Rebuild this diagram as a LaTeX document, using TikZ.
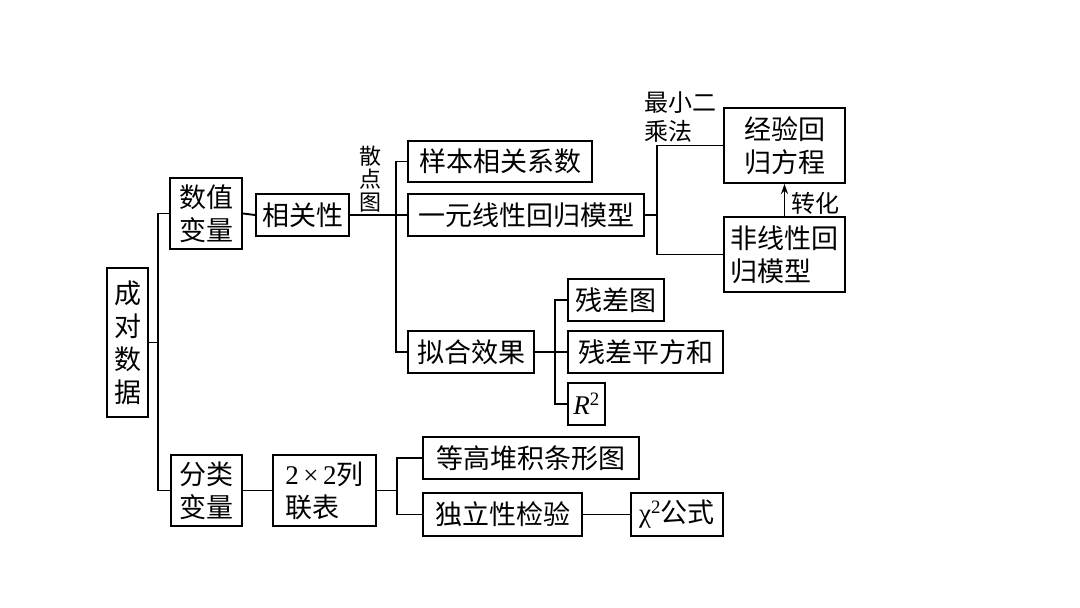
\documentclass[tikz,border=0pt]{standalone}
\usepackage{fontspec}
\setmainfont{Liberation Serif}
\newfontfamily\cjk{Noto Sans CJK SC}
\usepackage{tikz}
\usetikzlibrary{arrows.meta,positioning}

\begin{document}
\begin{tikzpicture}[x=1pt,y=-1pt,line width=1.9pt,
  every node/.style={font=\cjk\fontsize{27}{33}\selectfont, inner sep=0pt},
  box/.style={draw, align=left},
  lbl/.style={font=\cjk\fontsize{22}{23}\selectfont, align=left}]
  \useasboundingbox (0,0) rectangle (1080,608);
  % level 0 and 1
  \node[box, align=center, minimum width=41pt, minimum height=149pt] (data) at (127.5,342.5) {成\\对\\数\\据};
  \node[box, minimum width=72pt, minimum height=71pt] (num) at (206,213.5) {数值\\变量};
  \node[box, minimum width=71pt, minimum height=71pt] (cat) at (206.5,490.5) {分类\\变量};
  % numeric branch
  \node[box, minimum width=93pt, minimum height=42pt] (corr) at (302.5,215) {相关性};
  \node[box, minimum width=184pt, minimum height=41pt] (sample) at (500,161.5) {样本相关系数};
  \node[box, minimum width=236pt, minimum height=42pt] (linear) at (526,215) {一元线性回归模型};
  \node[box, minimum width=126pt, minimum height=42pt] (fit) at (471,352) {拟合效果};
  \node[box, minimum width=121pt, minimum height=75pt] (emp) at (784.5,145.5) {经验回\\归方程};
  \node[box, minimum width=121pt, minimum height=75pt] (nonlin) at (784.5,254.5) {非线性回\\归模型};
  \node[box, minimum width=96pt, minimum height=42pt] (resid) at (616,300) {残差图};
  \node[box, minimum width=155pt, minimum height=42pt] (rss) at (645.5,352) {残差平方和};
  \node[box, minimum width=37pt, minimum height=42pt] (rsq) at (586.5,404) {\rmfamily\itshape R\textsuperscript{\upshape 2}};
  % categorical branch
  \node[box, minimum width=103pt, minimum height=71pt] (table) at (324.5,490.5) {{\rmfamily 2\,×\,2}列\\联表};
  \node[box, minimum width=216pt, minimum height=42pt] (stack) at (531,458) {等高堆积条形图};
  \node[box, minimum width=159pt, minimum height=43pt] (indep) at (502.5,514.5) {独立性检验};
  \node[box, minimum width=92pt, minimum height=43pt] (chi) at (677,514.5) {{\rmfamily χ\textsuperscript{2}}公式};
  % labels
  \node[lbl, align=center] (scatter) at (370,179) {散\\点\\图};
  \node[lbl, font=\cjk\fontsize{24}{29}\selectfont] (lsq) at (680,117) {最小二\\乘法};
  \node[lbl, font=\cjk\fontsize{24}{29}\selectfont] (conv) at (815,203) {转化};
  % junctions
  \coordinate (j1) at (158,342.5);
  \coordinate (j2) at (396,215);
  \coordinate (j3) at (657,215);
  \coordinate (j4) at (555,352);
  \coordinate (j5) at (397,490.5);
  % connectors
  \draw (data.east) -- (j1);
  \draw (num.west) -| (j1) |- (cat.west);
  \draw (num.east) -- (corr.west);
  \draw (corr.east) -- (linear.west);
  \draw (sample.west) -| (j2) |- (fit.west);
  \draw (linear.east) -- (j3);
  \draw (emp.west) -| (j3) |- (nonlin.west);
  \draw[line width=1.5pt, -{Stealth[length=10pt,width=7pt]}] (nonlin.north) -- (emp.south);
  \draw (fit.east) -- (rss.west);
  \draw (resid.west) -| (j4) |- (rsq.west);
  \draw (cat.east) -- (table.west);
  \draw (table.east) -- (j5);
  \draw (stack.west) -| (j5) |- (indep.west);
  \draw (indep.east) -- (chi.west);
\end{tikzpicture}
\end{document}
